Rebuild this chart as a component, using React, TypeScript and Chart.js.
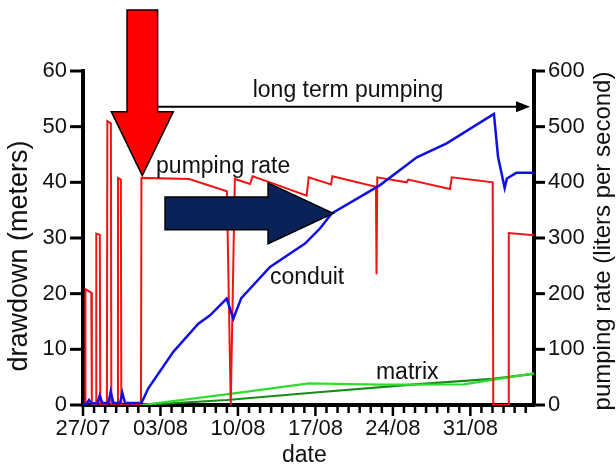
import React, { useEffect, useRef } from 'react';
import { Chart, registerables } from 'chart.js';

Chart.register(...registerables);

// ---------- data ----------
// x = days since 27/07
const DAY_MAX = 40.75;
const xTickDays = [0, 7, 14, 21, 28, 35];
const xTickLabels = ['27/07', '03/08', '10/08', '17/08', '24/08', '31/08'];
const drawdownMax = 60;
const drawdownStep = 10;
const rateMax = 600;
const rateStep = 100;

// pumping rate (liters per second), right axis
const pumpingRate: [number, number][] = [
  [0.2, 0], [0.22, 208], [0.75, 202], [0.8, 0], [1.18, 0], [1.2, 308], [1.52, 306], [1.56, 0],
  [2.16, 0], [2.2, 510], [2.52, 506], [2.56, 0], [3.12, 0], [3.16, 408], [3.42, 405], [3.46, 0],
  [5.24, 0], [5.28, 408], [9.6, 406], [13.0, 384], [13.35, 0], [13.72, 406], [15.09, 397],
  [15.33, 411], [16.9, 400], [20.21, 376], [20.39, 409], [22.41, 396], [22.53, 411], [26.47, 392],
  [26.52, 235], [26.59, 409], [29.25, 400], [29.39, 405], [33.16, 388], [33.32, 409], [37.02, 400],
  [37.07, 0], [38.43, 0], [38.47, 309], [40.75, 305],
];

// conduit drawdown (meters), left axis
const conduit: [number, number][] = [
  [0, 0.2], [0.3, 0.2], [0.54, 0.9], [0.75, 0.3], [1.3, 0.3], [1.51, 1.7], [1.75, 0.35],
  [2.3, 0.35], [2.5, 2.4], [2.75, 0.35], [3.35, 0.35], [3.55, 2.2], [3.8, 0.35], [5.28, 0.35],
  [5.9, 3.0], [8.16, 9.55], [10.42, 14.6], [11.48, 16.1], [12.98, 19.1], [13.58, 15.5],
  [14.3, 19.2], [16.9, 24.8], [20.06, 29.0], [21.41, 31.7], [22.47, 34.4], [24.88, 37.2],
  [26.84, 39.5], [30.16, 44.5], [32.86, 47.0], [37.13, 52.3], [37.5, 44.6], [38.1, 39.0],
  [38.3, 40.7], [39.15, 41.7], [40.75, 41.7],
];

// matrix drawdown (meters), two wells
const matrixUpper: [number, number][] = [
  [5.28, 0], [13.3, 2.0], [20.4, 3.9], [26.8, 3.65], [34.4, 3.7], [37.0, 4.5], [40.75, 5.7],
];
const matrixLower: [number, number][] = [
  [5.28, 0], [13.0, 0.9], [20.7, 2.2], [30.0, 3.7], [37.0, 4.7], [40.75, 5.6],
];

// ---------- styling ----------
const FONT = '"Liberation Sans", Arial, Helvetica, sans-serif';
const TICK_SIZE = 22;
const LABEL_SIZE = 23;

const annotationLabels = [
  { text: 'long term pumping', day: 23.94, dd: 55.4, align: 'center' as CanvasTextAlign },
  { text: 'pumping rate', day: 6.6, dd: 41.6, align: 'left' as CanvasTextAlign },
  { text: 'conduit', day: 16.9, dd: 21.7, align: 'left' as CanvasTextAlign },
  { text: 'matrix', day: 26.47, dd: 4.67, align: 'left' as CanvasTextAlign },
];

const toPts = (arr: [number, number][]) => arr.map(([x, y]) => ({ x, y }));

const overlay = {
  id: 'overlay',
  afterDraw(chart: any) {
    const { ctx, chartArea } = chart;
    const xs = chart.scales.x;
    const ys = chart.scales.y;
    const ys2 = chart.scales.y2;
    ctx.save();
    ctx.strokeStyle = '#000';
    ctx.lineCap = 'butt';

    // x ticks (major every 7 days, minor every day)
    ctx.lineWidth = 2.5;
    for (let d = 0; d <= Math.floor(DAY_MAX); d++) {
      const px = xs.getPixelForValue(d);
      const len = d % 7 === 0 ? 11 : 8;
      ctx.beginPath();
      ctx.moveTo(px, chartArea.bottom);
      ctx.lineTo(px, chartArea.bottom + len);
      ctx.stroke();
    }
    // left y ticks
    ctx.lineWidth = 3;
    for (let v = 0; v <= drawdownMax; v += drawdownStep) {
      const py = ys.getPixelForValue(v);
      ctx.beginPath();
      ctx.moveTo(chartArea.left - 13, py);
      ctx.lineTo(chartArea.left, py);
      ctx.stroke();
    }
    // right y ticks
    for (let v = 0; v <= rateMax; v += rateStep) {
      const py = ys2.getPixelForValue(v);
      ctx.beginPath();
      ctx.moveTo(chartArea.right, py);
      ctx.lineTo(chartArea.right + 11, py);
      ctx.stroke();
    }

    // axis titles
    ctx.fillStyle = '#111';
    ctx.textAlign = 'center';
    ctx.textBaseline = 'alphabetic';
    ctx.font = `${LABEL_SIZE}px ${FONT}`;
    ctx.fillText('date', xs.getPixelForValue(20), chartArea.bottom + 57);

    ctx.save();
    ctx.font = `27px ${FONT}`;
    ctx.translate(20, 256);
    ctx.rotate(-Math.PI / 2);
    ctx.textBaseline = 'middle';
    ctx.fillText('drawdown (meters)', 0, 0);
    ctx.restore();

    ctx.save();
    ctx.font = `24px ${FONT}`;
    ctx.translate(603, (chartArea.top + chartArea.bottom) / 2 + 3);
    ctx.rotate(-Math.PI / 2);
    ctx.textBaseline = 'middle';
    ctx.fillText('pumping rate (liters per second)', 0, 0);
    ctx.restore();

    // long term pumping arrow
    const ly = ys.getPixelForValue(53.6);
    const lx1 = xs.getPixelForValue(6.78);
    const lx2 = xs.getPixelForValue(40.39);
    ctx.lineWidth = 2;
    ctx.beginPath();
    ctx.moveTo(lx1, ly);
    ctx.lineTo(lx2 - 10, ly);
    ctx.stroke();
    ctx.fillStyle = '#000';
    ctx.beginPath();
    ctx.moveTo(lx2, ly);
    ctx.lineTo(lx2 - 14, ly - 5.5);
    ctx.lineTo(lx2 - 14, ly + 5.5);
    ctx.closePath();
    ctx.fill();

    // red downward arrow
    {
      const tx = xs.getPixelForValue(5.36);
      const ty = ys.getPixelForValue(41.2);
      const headLen = 64, headHalf = 31, shaftHalf = 15.3, shaftLen = 101.7;
      ctx.beginPath();
      ctx.moveTo(tx, ty);
      ctx.lineTo(tx - headHalf, ty - headLen);
      ctx.lineTo(tx - shaftHalf, ty - headLen);
      ctx.lineTo(tx - shaftHalf, ty - headLen - shaftLen);
      ctx.lineTo(tx + shaftHalf, ty - headLen - shaftLen);
      ctx.lineTo(tx + shaftHalf, ty - headLen);
      ctx.lineTo(tx + headHalf, ty - headLen);
      ctx.closePath();
      ctx.fillStyle = '#ff0000';
      ctx.fill();
      ctx.lineWidth = 1.5;
      ctx.strokeStyle = '#000';
      ctx.stroke();
    }
    // navy right arrow
    {
      const tx = xs.getPixelForValue(22.62);
      const ty = ys.getPixelForValue(34.43);
      const headLen = 65.3, headHalf = 30.4, shaftHalf = 16.4, shaftLen = 103;
      ctx.beginPath();
      ctx.moveTo(tx, ty);
      ctx.lineTo(tx - headLen, ty - headHalf);
      ctx.lineTo(tx - headLen, ty - shaftHalf);
      ctx.lineTo(tx - headLen - shaftLen, ty - shaftHalf);
      ctx.lineTo(tx - headLen - shaftLen, ty + shaftHalf);
      ctx.lineTo(tx - headLen, ty + shaftHalf);
      ctx.lineTo(tx - headLen, ty + headHalf);
      ctx.closePath();
      ctx.fillStyle = '#0b2259';
      ctx.fill();
      ctx.lineWidth = 1.5;
      ctx.strokeStyle = '#000';
      ctx.stroke();
    }

    // text labels
    ctx.fillStyle = '#111';
    ctx.font = `${LABEL_SIZE}px ${FONT}`;
    ctx.textBaseline = 'alphabetic';
    for (const l of annotationLabels) {
      ctx.textAlign = l.align;
      ctx.fillText(l.text, xs.getPixelForValue(l.day), ys.getPixelForValue(l.dd));
    }
    ctx.restore();
  },
};

export default function App() {
  const ref = useRef<HTMLCanvasElement | null>(null);
  useEffect(() => {
    if (!ref.current) return;
    const tickFont = { family: FONT, size: TICK_SIZE };
    const chart = new Chart(ref.current, {
      type: 'line',
      data: {
        datasets: [
          {
            label: 'conduit', data: toPts(conduit), yAxisID: 'y', borderColor: '#1010e6',
            borderWidth: 2.5, pointRadius: 0, tension: 0, order: 0,
          },
          {
            label: 'pumping rate', data: toPts(pumpingRate), yAxisID: 'y2', borderColor: '#f01414',
            borderWidth: 2, pointRadius: 0, tension: 0, order: 1,
          },
          {
            label: 'matrix upper', data: toPts(matrixUpper), yAxisID: 'y', borderColor: '#2fdc2f',
            borderWidth: 2.2, pointRadius: 0, tension: 0, order: 2,
          },
          {
            label: 'matrix lower', data: toPts(matrixLower), yAxisID: 'y', borderColor: '#178a17',
            borderWidth: 2.2, pointRadius: 0, tension: 0, order: 3,
          },
        ],
      } as any,
      options: {
        animation: false,
        responsive: false,
        maintainAspectRatio: false,
        devicePixelRatio: 1,
        layout: { padding: { top: 71, left: 0, right: 0, bottom: 0 } },
        plugins: { legend: { display: false }, tooltip: { enabled: false } },
        scales: {
          x: {
            type: 'linear', position: 'bottom', min: 0, max: DAY_MAX,
            afterFit: (s: any) => { s.height = 62; },
            afterBuildTicks: (s: any) => { s.ticks = xTickDays.map((v) => ({ value: v })); },
            ticks: {
              autoSkip: false, maxRotation: 0, padding: 11, color: '#111', font: tickFont,
              callback: (v: any) => { const i = xTickDays.indexOf(Number(v)); return i >= 0 ? xTickLabels[i] : ''; },
            },
            grid: { display: false, drawTicks: false },
            border: { display: true, color: '#000', width: 4 },
          },
          y: {
            type: 'linear', position: 'left', min: 0, max: drawdownMax,
            afterFit: (s: any) => { s.width = 83; },
            ticks: { stepSize: drawdownStep, padding: 16, color: '#111', font: tickFont },
            grid: { display: false, drawTicks: false },
            border: { display: true, color: '#000', width: 4 },
          },
          y2: {
            type: 'linear', position: 'right', min: 0, max: rateMax,
            afterFit: (s: any) => { s.width = 82; },
            ticks: { stepSize: rateStep, padding: 14, color: '#111', font: tickFont },
            grid: { display: false, drawTicks: false },
            border: { display: true, color: '#000', width: 4 },
          },
        },
      } as any,
      plugins: [overlay],
    });
    return () => chart.destroy();
  }, []);
  return (
    <div style={{ position: 'absolute', left: 0, top: 0, width: 616, height: 467, background: '#fff' }}>
      <canvas ref={ref} width={616} height={467} style={{ display: 'block' }} />
    </div>
  );
}
